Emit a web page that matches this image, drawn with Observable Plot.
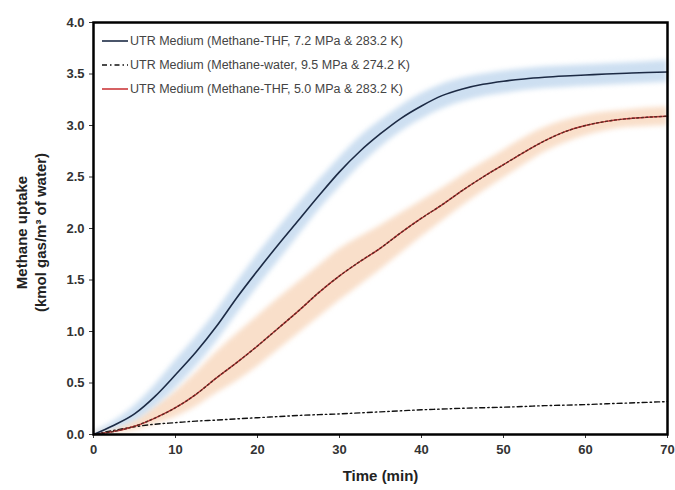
<!DOCTYPE html>
<html>
<head>
<meta charset="utf-8">
<script src="https://cdn.jsdelivr.net/npm/d3@7"></script>
<script src="https://cdn.jsdelivr.net/npm/@observablehq/plot@0.6"></script>
<style>
  html, body { margin: 0; padding: 0; background: #fff; }
  #chart svg { display: block; }
</style>
</head>
<body>
<div id="chart"></div>
<script>
// ---- data ----
const time = [0, 2.5, 5, 7.5, 10, 12.5, 15, 17.5, 20, 22.5, 25, 27.5, 30, 32.5, 35, 37.5, 40, 42.5, 45, 47.5, 50, 52.5, 55, 57.5, 60, 62.5, 65, 67.5, 70];
const thf72 = [0, 0.09, 0.2, 0.37, 0.58, 0.8, 1.05, 1.33, 1.59, 1.84, 2.08, 2.32, 2.55, 2.75, 2.92, 3.07, 3.19, 3.29, 3.355, 3.4, 3.43, 3.452, 3.468, 3.48, 3.49, 3.5, 3.508, 3.515, 3.52];
const thf72Low = [0, 0.05, 0.13, 0.27, 0.45, 0.66, 0.9, 1.17, 1.43, 1.68, 1.93, 2.18, 2.4, 2.61, 2.79, 2.94, 3.06, 3.16, 3.23, 3.28, 3.31, 3.34, 3.36, 3.37, 3.38, 3.39, 3.4, 3.41, 3.42];
const thf72High = [0.02, 0.13, 0.28, 0.48, 0.72, 0.95, 1.2, 1.48, 1.75, 2.0, 2.24, 2.47, 2.69, 2.89, 3.05, 3.19, 3.31, 3.4, 3.46, 3.5, 3.53, 3.55, 3.57, 3.58, 3.59, 3.6, 3.61, 3.62, 3.63];
const water95 = [0, 0.04, 0.075, 0.1, 0.115, 0.13, 0.14, 0.152, 0.163, 0.174, 0.185, 0.193, 0.2, 0.21, 0.22, 0.23, 0.24, 0.247, 0.255, 0.26, 0.265, 0.272, 0.28, 0.285, 0.29, 0.298, 0.305, 0.312, 0.32];
const thf50 = [0, 0.03, 0.08, 0.16, 0.26, 0.39, 0.55, 0.7, 0.86, 1.03, 1.2, 1.38, 1.54, 1.68, 1.81, 1.96, 2.1, 2.23, 2.37, 2.5, 2.62, 2.74, 2.85, 2.94, 3.0, 3.04, 3.065, 3.08, 3.09];
const thf50Low = [0, 0.01, 0.04, 0.1, 0.17, 0.27, 0.4, 0.52, 0.66, 0.82, 0.98, 1.14, 1.3, 1.45, 1.6, 1.76, 1.92, 2.07, 2.22, 2.36, 2.49, 2.62, 2.74, 2.83, 2.9, 2.95, 2.98, 2.99, 3.0];
const thf50High = [0.02, 0.06, 0.14, 0.27, 0.42, 0.6, 0.8, 0.98, 1.15, 1.32, 1.48, 1.64, 1.8, 1.92, 2.03, 2.15, 2.27, 2.39, 2.52, 2.64, 2.76, 2.88, 2.98, 3.05, 3.1, 3.13, 3.15, 3.17, 3.18];
const seriesNames = [
  "UTR Medium (Methane-THF, 7.2 MPa & 283.2 K)",
  "UTR Medium (Methane-water, 9.5 MPa & 274.2 K)",
  "UTR Medium (Methane-THF, 5.0 MPa & 283.2 K)"
];
const xTicks = [0, 10, 20, 30, 40, 50, 60, 70];
const yTicks = [0, 0.5, 1, 1.5, 2, 2.5, 3, 3.5, 4];
const xLabel = "Time (min)";
const yLabel1 = "Methane uptake";
const yLabel2 = "(kmol gas/m³ of water)";

// ---- build tables ----
const rows = time.map((t, i) => ({
  t, a: thf72[i], aLo: thf72Low[i], aHi: thf72High[i],
  w: water95[i], b: thf50[i], bLo: thf50Low[i], bHi: thf50High[i]
}));

const colBlue = "#1c2a44", colRed = "#cc3a3c", colRedDark = "#5a2a22", colBlack = "#111";

function legend(index, scales, values, dims) {
  const g = d3.create("svg:g")
    .attr("font-family", "'Liberation Sans', sans-serif")
    .attr("font-size", 12.5).attr("fill", "#444").attr("text-anchor", "start");
  const styles = [
    {stroke: colBlue, dash: null},
    {stroke: colBlack, dash: "5,3,1.5,3"},
    {stroke: colRed, dash: null}
  ];
  seriesNames.forEach((name, i) => {
    const y = dims.marginTop + 19 + i * 24;
    const x0 = dims.marginLeft + 9;
    g.append("line").attr("x1", x0).attr("x2", x0 + 26).attr("y1", y).attr("y2", y)
      .attr("stroke", styles[i].stroke).attr("stroke-width", 1.6)
      .attr("stroke-dasharray", styles[i].dash);
    g.append("text").attr("x", x0 + 28).attr("y", y).attr("dy", "0.35em").text(name);
  });
  return g.node();
}

const chart = Plot.plot({
  width: 675,
  height: 490,
  marginLeft: 93,
  marginRight: 8,
  marginTop: 22,
  marginBottom: 56,
  style: {fontFamily: "'Liberation Sans', sans-serif", fontSize: "13px", color: "#333", background: "#fff"},
  x: {domain: [0, 70], ticks: xTicks, tickSize: 4, tickPadding: 6, label: null},
  y: {domain: [0, 4], ticks: yTicks, tickFormat: d3.format(".1f"), tickSize: 4, tickPadding: 5, label: null},
  marks: [
    Plot.areaY(rows, {x: "t", y1: "bLo", y2: "bHi", fill: "#f6d2b4", fillOpacity: 0.7, curve: "monotone-x"}),
    Plot.areaY(rows, {x: "t", y1: "aLo", y2: "aHi", fill: "#bcd4ec", fillOpacity: 0.75, curve: "monotone-x"}),
    Plot.line(rows, {x: "t", y: "w", stroke: colBlack, strokeWidth: 1.4, strokeDasharray: "5,3,1.5,3", curve: "monotone-x"}),
    Plot.line(rows, {x: "t", y: "b", stroke: colRed, strokeWidth: 1.4, curve: "monotone-x"}),
    Plot.line(rows, {x: "t", y: "b", stroke: colRedDark, strokeWidth: 1.4, strokeDasharray: "2,2.5", curve: "monotone-x"}),
    Plot.line(rows, {x: "t", y: "a", stroke: colBlue, strokeWidth: 1.6, curve: "monotone-x"}),
    Plot.frame({stroke: "#000", strokeWidth: 2.5}),
    Plot.text([yLabel1], {text: d => d, frameAnchor: "left", textAnchor: "middle", dx: -71, dy: 4, rotate: -90, fontWeight: "bold", fontSize: 15, fill: "#222"}),
    Plot.text([yLabel2], {text: d => d, frameAnchor: "left", textAnchor: "middle", dx: -52, dy: 4, rotate: -90, fontWeight: "bold", fontSize: 15, fill: "#222"}),
    Plot.text([xLabel], {text: d => d, frameAnchor: "bottom", dy: 46, fontWeight: "bold", fontSize: 15, fill: "#222"}),
    legend
  ]
});

document.getElementById("chart").appendChild(chart);
d3.select(chart).selectAll("g[aria-label=area] path").style("filter", "blur(2.5px)");
d3.select(chart).selectAll("g[aria-label='x-axis tick label'] text, g[aria-label='y-axis tick label'] text").attr("font-weight", "bold");
</script>
</body>
</html>
